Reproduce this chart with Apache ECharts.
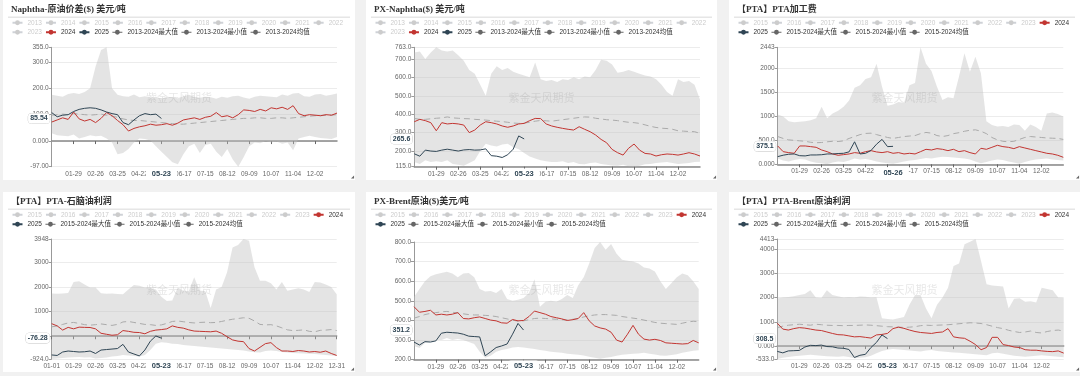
<!DOCTYPE html>
<html>
<head>
<meta charset="utf-8">
<title>PX / PTA 价差与利润</title>
<script src="https://cdn.jsdelivr.net/npm/echarts@6.0.0/dist/echarts.min.js"></script>
<style>
  html, body { margin: 0; padding: 0; }
  body { width: 1080px; height: 376px; background: #f1f1f1; position: relative; overflow: hidden; }
  .panel { position: absolute; background: #fff; }
</style>
</head>
<body>
<div id="c1" class="panel" style="left:3px;top:0;width:352px;height:180px"></div>
<div id="c2" class="panel" style="left:366px;top:0;width:351px;height:180px"></div>
<div id="c3" class="panel" style="left:729px;top:0;width:351px;height:180px"></div>
<div id="c4" class="panel" style="left:3px;top:192px;width:352px;height:180px"></div>
<div id="c5" class="panel" style="left:366px;top:192px;width:351px;height:180px"></div>
<div id="c6" class="panel" style="left:729px;top:192px;width:351px;height:180px"></div>
<script>
// weekly points of the year (last one is year end)
const weeks = ['01-01', '01-08', '01-15', '01-22', '01-29', '02-05', '02-12', '02-19', '02-26',
  '03-04', '03-11', '03-18', '03-25', '04-01', '04-08', '04-15', '04-22', '04-29',
  '05-06', '05-13', '05-20', '05-27', '06-03', '06-10', '06-17', '06-24',
  '07-01', '07-08', '07-15', '07-22', '07-29', '08-05', '08-12', '08-19', '08-26',
  '09-02', '09-09', '09-16', '09-23', '09-30', '10-07', '10-14', '10-21', '10-28',
  '11-04', '11-11', '11-18', '11-25', '12-02', '12-09', '12-16', '12-23', '12-31'];

// Naphtha-原油价差
const naphCrudeRange = [-97, 355];
const naphCrude2024 = [72, 80, 88, 82, 110, 84, 76, 82, 70, 86, 108, 96, 78, 62, 38, 48, 54, 58, 64, 60,
  62, 66, 60, 68, 80, 84, 88, 82, 90, 94, 108, 92, 96, 88, 100, 118, 116, 112, 120, 114,
  126, 122, 128, 120, 134, 104, 96, 100, 98, 96, 100, 98, 106];
const naphCrude2025 = [108, 92, 98, 100, 112, 120, 124, 126, 124, 118, 110, 104, 100, 70, 62, 80, 96, 104, 100, 102, 85.54];
const naphCrudeMax = [175, 172, 168, 178, 182, 178, 186, 200, 282, 345, 355, 200, 175, 170, 168, 176, 166, 170, 164, 168,
  160, 168, 166, 162, 170, 175, 168, 164, 168, 166, 160, 168, 164, 170, 172, 165, 160, 168, 172, 170,
  168, 166, 176, 172, 180, 182, 170, 168, 176, 178, 172, 175, 180];
const naphCrudeMin = [30, 22, 20, 18, 25, 10, 15, 22, 18, 20, 10, -5, -50, -45, -30, -5, 10, 8, 2, -20,
  -40, -60, -80, -88, -50, -20, -10, -45, -15, -10, -40, -60, -30, -70, -97, -60, -20, -5, -8, 0,
  -5, -2, -10, -5, -35, 10, 15, 20, 15, 12, 10, 8, 15];
const naphCrudeAvg = [98, 100, 102, 100, 104, 102, 100, 98, 100, 102, 98, 94, 90, 84, 80, 78, 78, 76, 74, 72,
  70, 68, 66, 64, 64, 66, 68, 70, 72, 74, 76, 78, 80, 82, 84, 86, 86, 88, 88, 86,
  86, 88, 88, 86, 88, 90, 92, 94, 96, 96, 98, 98, 100];

// PX-Naphtha
const pxNaphRange = [115, 763];
const pxNaph2024 = [359, 372, 365, 354, 310, 354, 347, 350, 347, 341, 300, 314, 341, 359, 354, 347, 336, 329, 336, 347,
  350, 365, 377, 376, 347, 336, 329, 323, 318, 314, 332, 318, 305, 287, 263, 245, 209, 191, 178, 215,
  238, 205, 187, 184, 173, 180, 184, 182, 178, 184, 191, 184, 173];
const pxNaph2025 = [185, 172, 205, 200, 198, 205, 210, 205, 200, 206, 208, 205, 206, 212, 175, 172, 165, 180, 210, 282, 265.6];
const pxNaphMax = [735, 740, 700, 735, 763, 745, 740, 745, 720, 690, 640, 620, 560, 500, 620, 660, 640, 650, 630, 620,
  610, 600, 680, 590, 580, 585, 575, 590, 585, 600, 590, 605, 600, 640, 695, 690, 670, 625, 630, 640,
  630, 620, 610, 605, 590, 560, 520, 500, 590, 575, 580, 560, 480];
const pxNaphMin = [140, 130, 150, 140, 145, 140, 150, 130, 125, 120, 135, 150, 200, 240, 230, 225, 235, 240, 220, 210,
  190, 170, 160, 150, 145, 140, 140, 145, 135, 140, 130, 128, 135, 138, 130, 125, 122, 120, 125, 118,
  115, 120, 128, 130, 135, 138, 140, 135, 130, 132, 135, 140, 142];
const pxNaphAvg = [377, 372, 372, 375, 378, 380, 385, 380, 378, 376, 375, 372, 370, 368, 365, 362, 360, 356, 352, 350,
  352, 356, 362, 366, 364, 362, 366, 370, 374, 378, 382, 385, 384, 378, 374, 370, 368, 365, 360, 356,
  354, 350, 342, 334, 328, 324, 322, 318, 310, 308, 306, 305, 296];

// PTA加工费
const ptaFeeRange = [0, 2443];
const ptaFee2024 = [383, 264, 244, 230, 383, 383, 369, 355, 299, 264, 216, 188, 202, 216, 244, 230, 264, 285, 258, 244,
  264, 230, 244, 216, 230, 216, 264, 313, 299, 327, 313, 285, 313, 264, 285, 244, 216, 334, 313, 355,
  397, 369, 355, 327, 369, 341, 313, 285, 258, 230, 216, 188, 146];
const ptaFee2025 = [160, 190, 210, 216, 180, 175, 195, 195, 200, 216, 216, 225, 230, 260, 470, 216, 230, 290, 420, 520, 369, 375.1];
const ptaFeeMax = [1040, 1000, 900, 880, 890, 900, 920, 960, 1200, 960, 1060, 1120, 1200, 1330, 1600, 1650, 1780, 1820, 2100, 1620,
  1220, 1250, 1300, 1280, 1650, 1700, 2443, 2100, 1950, 1620, 1340, 1400, 1380, 1830, 2318, 1935, 2248, 1900, 900, 820,
  790, 800, 780, 830, 820, 700, 830, 780, 700, 1060, 1080, 1050, 1000];
const ptaFeeMin = [120, 80, 60, 90, 110, 100, 60, 30, 20, 0, 40, 60, 50, 80, 120, 100, 110, 90, 60, 40,
  20, 10, 30, 60, 80, 90, 110, 130, 120, 140, 160, 150, 140, 130, 120, 100, 60, 20, 50, 80,
  100, 90, 60, 40, 10, 50, 80, 100, 110, 120, 100, 90, 80];
const ptaFeeAvg = [580, 540, 510, 500, 490, 480, 460, 450, 455, 470, 480, 475, 490, 540, 580, 620, 645, 650, 620, 590,
  560, 540, 560, 580, 590, 600, 640, 665, 650, 600, 580, 600, 640, 660, 690, 710, 720, 690, 640, 560,
  510, 480, 470, 480, 520, 560, 580, 570, 560, 550, 545, 540, 520];

// PTA-石脑油利润
const ptaNaphRange = [-924, 3948];
const ptaNaph2024 = [510, 420, 250, 360, 300, 370, 360, 355, 300, 120, 80, 40, 60, 230, 200, 160, 150, 100, 200, 250,
  270, 300, 420, 360, 330, 260, 210, 200, 190, 180, 210, 120, -20, -150, -200, -220, -500, -600, -450, -300,
  -260, -460, -600, -600, -620, -580, -600, -640, -620, -650, -600, -700, -780];
const ptaNaph2025 = [-760, -780, -640, -600, -620, -640, -630, -600, -700, -560, -540, -520, -500, -330, -640, -720, -800, -560, -200, 10, -76.28];
const ptaNaphMax = [1740, 1730, 1740, 1760, 2200, 2230, 2100, 1980, 1980, 1750, 1730, 1740, 1720, 1700, 1900, 2080, 2050, 1980, 1960, 1900,
  1600, 1430, 1450, 1980, 1850, 1830, 2400, 1850, 1840, 1150, 1900, 2000, 2600, 3600, 3700, 3948, 3880, 2800, 2250, 2250,
  2150, 1900, 2200, 1850, 1900, 1950, 1900, 1800, 2200, 2180, 2100, 2000, 1700];
const ptaNaphMin = [-924, -900, -880, -860, -850, -840, -860, -850, -900, -880, -860, -820, -800, -760, -780, -800, -820, -760, -560, -300,
  -240, -260, -300, -320, -360, -380, -400, -420, -440, -460, -480, -500, -520, -540, -560, -580, -620, -650, -660, -600,
  -580, -600, -640, -660, -680, -690, -700, -710, -720, -740, -760, -780, -800];
const ptaNaphAvg = [380, 420, 480, 540, 560, 520, 470, 450, 470, 500, 470, 440, 480, 580, 600, 560, 520, 480, 470, 440,
  460, 520, 600, 620, 590, 560, 540, 560, 570, 550, 560, 600, 650, 690, 720, 750, 730, 620, 480, 460,
  470, 420, 340, 260, 230, 240, 260, 200, 180, 240, 250, 270, 230];

// PX-Brent原油
const pxBrentRange = [200, 800];
const pxBrent2024 = [470, 442, 446, 452, 428, 432, 428, 432, 440, 410, 408, 414, 418, 410, 402, 398, 388, 386, 405, 398,
  400, 420, 448, 440, 432, 420, 414, 408, 400, 404, 410, 440, 398, 372, 362, 356, 340, 300, 290, 330,
  375, 330, 305, 300, 304, 298, 286, 284, 282, 280, 282, 298, 286];
const pxBrent2025 = [290, 275, 292, 290, 296, 335, 340, 338, 336, 330, 320, 318, 316, 220, 240, 262, 270, 280, 330, 385, 351.2];
const pxBrentMax = [520, 560, 600, 625, 635, 642, 648, 640, 620, 640, 642, 620, 560, 548, 550, 540, 560, 510, 500, 505,
  515, 540, 610, 470, 495, 500, 496, 510, 530, 515, 580, 620, 690, 770, 800, 760, 790, 740, 710, 705,
  700, 690, 670, 665, 650, 600, 560, 590, 620, 640, 630, 600, 560];
const pxBrentMin = [270, 260, 285, 290, 300, 300, 310, 300, 305, 300, 290, 280, 240, 210, 220, 240, 250, 255, 262, 265,
  262, 258, 255, 250, 245, 240, 238, 235, 230, 228, 225, 222, 215, 210, 205, 210, 214, 220, 225, 228,
  230, 232, 235, 230, 226, 222, 220, 224, 228, 235, 240, 245, 248];
const pxBrentAvg = [412, 420, 430, 436, 440, 444, 446, 442, 438, 434, 430, 428, 428, 426, 424, 420, 414, 408, 402, 396,
  398, 404, 410, 412, 410, 408, 406, 404, 402, 406, 410, 418, 424, 428, 430, 430, 428, 426, 420, 416,
  412, 408, 402, 396, 390, 386, 384, 382, 380, 386, 392, 396, 394];

// PTA-Brent原油利润
const ptaBrentRange = [-533, 4413];
const ptaBrent2024 = [940, 700, 660, 720, 760, 740, 700, 660, 640, 580, 520, 470, 460, 420, 380, 390, 360, 330, 460, 480,
  520, 720, 780, 730, 660, 600, 560, 540, 520, 560, 580, 720, 380, 340, 320, 200, 60, -150, -60, 360,
  360, 60, 20, -40, -60, -150, -170, -170, -200, -220, -230, -200, -290];
const ptaBrent2025 = [-220, -280, -200, -190, -180, -40, 30, 20, 40, -20, -30, -80, -90, -140, -470, -380, -340, -60, 150, 460, 308.5];
const ptaBrentMax = [1960, 2000, 2020, 2050, 2100, 2150, 2300, 2000, 1980, 2300, 2100, 2050, 2000, 2020, 2000, 2040, 2030, 2000, 2010, 1150,
  1120, 1100, 1150, 1200, 1700, 2100, 2100, 1550, 1150, 1700, 2000, 2400, 3300, 3400, 4200, 4300, 4413, 3500, 2550, 2500,
  2480, 2460, 1550, 1950, 1970, 1830, 1850, 1800, 2400, 2350, 2300, 2000, 1980];
const ptaBrentMin = [-533, -480, -450, -420, -400, -380, -360, -380, -400, -420, -430, -440, -420, -450, -500, -480, -460, -400, -300, -200,
  -150, -120, -140, -160, -180, -200, -220, -180, -160, -200, -220, -240, -260, -280, -300, -320, -340, -360, -380, -300,
  -280, -320, -360, -400, -420, -440, -420, -400, -380, -400, -420, -440, -460];
const ptaBrentAvg = [760, 820, 860, 880, 900, 880, 860, 900, 880, 860, 850, 850, 840, 850, 850, 860, 870, 860, 840, 820,
  800, 790, 780, 770, 780, 800, 840, 860, 850, 860, 870, 880, 900, 920, 940, 960, 950, 930, 880, 820,
  760, 720, 650, 600, 560, 580, 620, 560, 540, 600, 640, 660, 620];

const FONT = 'Liberation Sans, Noto Sans CJK SC, sans-serif';
const RED = '#c23531';
const NAVY = '#2f4554';

const panels = [
  { id: 'c1', title: 'Naphtha-原油价差($) 美元/吨', from: 2013, cur: naphCrude2024, next: naphCrude2025,
    max: naphCrudeMax, min: naphCrudeMin, avg: naphCrudeAvg, range: naphCrudeRange, latest: '05-23',
    grid: { left: 48.7, right: 18, top: 47.3, bottom: 13.3 }, ends: false },
  { id: 'c2', title: 'PX-Naphtha($) 美元/吨', from: 2013, cur: pxNaph2024, next: pxNaph2025,
    max: pxNaphMax, min: pxNaphMin, avg: pxNaphAvg, range: pxNaphRange, latest: '05-23',
    grid: { left: 48.3, right: 17, top: 47.3, bottom: 13.3 }, ends: false },
  { id: 'c3', title: '【PTA】PTA加工费', from: 2015, cur: ptaFee2024, next: ptaFee2025,
    max: ptaFeeMax, min: ptaFeeMin, avg: ptaFeeAvg, range: ptaFeeRange, latest: '05-26',
    grid: { left: 48.7, right: 16.7, top: 47.3, bottom: 15.7 }, ends: false },
  { id: 'c4', title: '【PTA】PTA-石脑油利润', from: 2015, cur: ptaNaph2024, next: ptaNaph2025,
    max: ptaNaphMax, min: ptaNaphMin, avg: ptaNaphAvg, range: ptaNaphRange, latest: '05-23',
    grid: { left: 48.7, right: 18.3, top: 47, bottom: 13 }, ends: true },
  { id: 'c5', title: 'PX-Brent原油($)美元/吨', from: 2015, cur: pxBrent2024, next: pxBrent2025,
    max: pxBrentMax, min: pxBrentMin, avg: pxBrentAvg, range: pxBrentRange, latest: '05-23',
    grid: { left: 48, right: 18.3, top: 50, bottom: 12.3 }, ends: false },
  { id: 'c6', title: '【PTA】PTA-Brent原油利润', from: 2015, cur: ptaBrent2024, next: ptaBrent2025,
    max: ptaBrentMax, min: ptaBrentMin, avg: ptaBrentAvg, range: ptaBrentRange, latest: '05-23',
    grid: { left: 48.3, right: 16.3, top: 47, bottom: 13 }, ends: false }
];

function buildOption(p, width) {
  const span = p.from + '-2024';
  const maxName = span + '最大值';
  const minName = span + '最小值';
  const avgName = span + '均值';
  const oldYears = [];
  for (let y = p.from; y <= 2023; y++) oldYears.push(String(y));
  const selected = {};
  oldYears.forEach(y => { selected[y] = false });
  const greyItem = { itemStyle: { color: '#666' }, lineStyle: { color: '#666', width: 1, opacity: 1, type: 'solid' } };
  const legendData = oldYears.concat(['2024', '2025']).map(n => ({ name: n }))
    .concat([maxName, minName, avgName].map(n => Object.assign({ name: n }, greyItem)));
  const last = p.next.length - 1;
  const showTick = i => i % 4 === 0 && (p.ends || (i > 0 && i < weeks.length - 1));
  const band = p.max.map((v, i) => v - p.min[i]);

  const oldSeries = oldYears.map(y => ({ name: y, type: 'line', symbol: 'circle', showSymbol: false, data: [] }));

  return {
    animation: false,
    textStyle: { fontFamily: FONT },
    title: {
      text: p.title, left: 8, top: 5, padding: 0,
      textStyle: { fontSize: 9, fontWeight: 'bold', color: '#333', fontFamily: 'Liberation Serif, Noto Sans CJK SC, serif' }
    },
    legend: {
      left: 8.5, top: 19.5, width: 345, padding: 0,
      itemWidth: 10, itemHeight: 6, itemGap: 3,
      inactiveColor: '#ccc',
      textStyle: { fontSize: 6.5, color: '#333', fontFamily: FONT },
      selected: selected,
      data: legendData
    },
    grid: p.grid,
    xAxis: [
      {
        type: 'category', data: weeks, boundaryGap: false, position: 'bottom',
        axisLine: { show: false, onZero: false },
        axisTick: { show: false },
        axisLabel: { interval: i => showTick(i), fontSize: 6.5, color: '#666', margin: 4 },
        splitLine: { show: false },
        axisPointer: {
          show: true, status: 'show', value: last, type: 'line', triggerTooltip: false,
          lineStyle: { opacity: 0 },
          label: {
            show: true, formatter: () => p.latest, backgroundColor: '#fff',
            color: NAVY, fontWeight: 'bold', fontSize: 7.5, padding: [2, 6], margin: 3
          }
        }
      },
      {
        type: 'category', data: weeks, boundaryGap: false, position: 'bottom',
        axisLine: { show: true, onZero: true, lineStyle: { color: '#888', width: 1.5 } },
        axisTick: { show: true, interval: i => showTick(i), length: 3, lineStyle: { color: '#666' } },
        axisLabel: { show: false },
        splitLine: { show: false }
      }
    ],
    yAxis: {
      type: 'value', min: p.range[0], max: p.range[1], splitNumber: 5,
      axisLine: { show: true, lineStyle: { color: '#999', width: 1 } },
      axisTick: { show: true, length: 3, lineStyle: { color: '#999' } },
      axisLabel: { fontSize: 6.5, color: '#666', margin: 3, formatter: v => Number(v).toPrecision(4) },
      splitLine: { show: true, lineStyle: { color: '#ececec' } },
      axisPointer: {
        show: true, status: 'show', value: p.next[last], type: 'line', triggerTooltip: false,
        lineStyle: { opacity: 0 },
        label: {
          show: true, formatter: o => Number(o.value).toPrecision(4), backgroundColor: '#fff',
          borderColor: '#ccc', borderWidth: 0.5,
          color: NAVY, fontWeight: 'bold', fontSize: 7, padding: [1.5, 2], margin: 2
        }
      }
    },
    graphic: [
      { type: 'rect', left: 5, top: 16.5, silent: true, shape: { width: width - 10, height: 1.5 }, style: { fill: '#e6e6e6' } },
      { type: 'text', left: 'center', top: 92, silent: true, z: 50,
        style: { text: '紫金天风期货', fontSize: 11, fontFamily: 'Noto Sans CJK SC', fill: 'rgba(120,120,120,0.18)' } },
      { type: 'text', right: 1, bottom: 1, silent: true, style: { text: '◢', fontSize: 4, fill: '#666' } }
    ],
    series: oldSeries.concat([
      { name: minName, type: 'line', data: p.min, stack: 'band', stackStrategy: 'all',
        symbol: 'circle', showSymbol: false, silent: true, z: 1,
        itemStyle: { color: '#666' }, lineStyle: { opacity: 0 } },
      { name: maxName, type: 'line', data: band, stack: 'band', stackStrategy: 'all',
        symbol: 'circle', showSymbol: false, silent: true, z: 1,
        itemStyle: { color: '#666' }, lineStyle: { opacity: 0 },
        areaStyle: { color: 'rgba(190,190,190,0.42)', opacity: 1 } },
      { name: avgName, type: 'line', data: p.avg, symbol: 'circle', showSymbol: false, z: 2,
        itemStyle: { color: '#666' }, lineStyle: { color: '#aaa', width: 1, type: [6, 4] } },
      { name: '2024', type: 'line', data: p.cur, symbol: 'circle', showSymbol: false, z: 3,
        itemStyle: { color: RED }, lineStyle: { color: RED, width: 1 } },
      { name: '2025', type: 'line', data: p.next, symbol: 'circle', showSymbol: false, z: 4,
        itemStyle: { color: NAVY }, lineStyle: { color: NAVY, width: 1 } }
    ])
  };
}

panels.forEach(p => {
  const chart = echarts.init(document.getElementById(p.id));
  chart.setOption(buildOption(p, chart.getWidth()));
});
</script>
</body>
</html>
